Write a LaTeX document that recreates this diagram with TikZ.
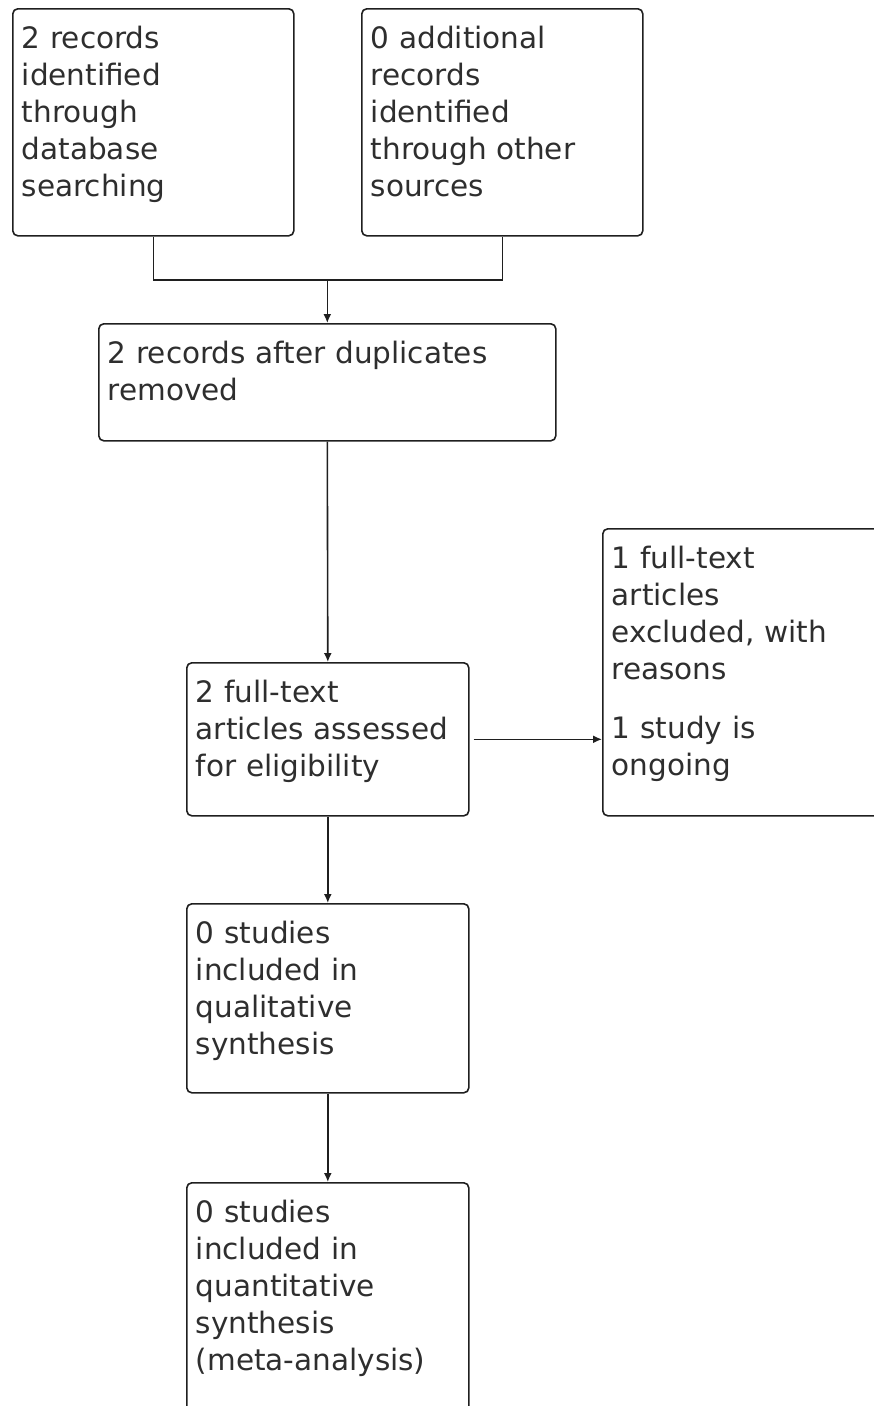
\documentclass[tikz,border=0pt]{standalone}
\usepackage{fontspec}
\setmainfont{DejaVu Sans}
\usepackage{tikz}
\usetikzlibrary{arrows.meta}
\colorlet{frame}{black!88}
\colorlet{ink}{black!82}

\tikzset{
  flowbox/.style 2 args={draw=frame, line width=1.6pt, rounded corners=5pt,
    anchor=north west, align=left, text=ink,
    font=\fontsize{29.5}{37}\selectfont,
    inner xsep=9pt, inner ysep=11pt, text height=29pt,
    text width=#1, text depth=#2},
  link/.style={draw=frame, line width=1.6pt},
  arrow/.style={link, -{Latex[length=9pt,width=8pt]}}
}

\begin{document}
\begin{tikzpicture}[x=1pt,y=-1pt]
\useasboundingbox (0,0) rectangle (874,1406);
\node[flowbox={263pt}{176pt}] (db) at (12,8)
  {2 records\\identified\\through\\database\\searching};
\node[flowbox={263pt}{176pt}] (other) at (361,8)
  {0 additional\\records\\identified\\through other\\sources};
\node[flowbox={439pt}{66pt}] (dedup) at (98,323)
  {2 records after duplicates\\removed};
\node[flowbox={264pt}{102pt}] (full) at (186,662)
  {2 full-text\\articles assessed\\for eligibility};
\node[flowbox={263pt}{236pt}] (excl) at (602,528)
  {1 full-text\\articles\\excluded, with\\reasons\\[22pt]1 study is\\ongoing};
\node[flowbox={264pt}{138pt}] (qual) at (186,903)
  {0 studies\\included in\\qualitative\\synthesis};
\node[flowbox={264pt}{189pt}] (quant) at (186,1182)
  {0 studies\\included in\\quantitative\\synthesis\\(meta-analysis)};
\coordinate (join) at (dedup.north |- 0,280);
\draw[link] (db.south) |- (join) -| (other.south);
\draw[arrow] (join) -- (dedup.north);
\draw[arrow] (dedup.south) -- (full.north);
\draw[arrow, shorten <=4pt] (full.east) -- (full.east -| excl.west);
\draw[arrow] (full.south) -- (qual.north);
\draw[arrow] (qual.south) -- (quant.north);
\end{tikzpicture}
\end{document}
